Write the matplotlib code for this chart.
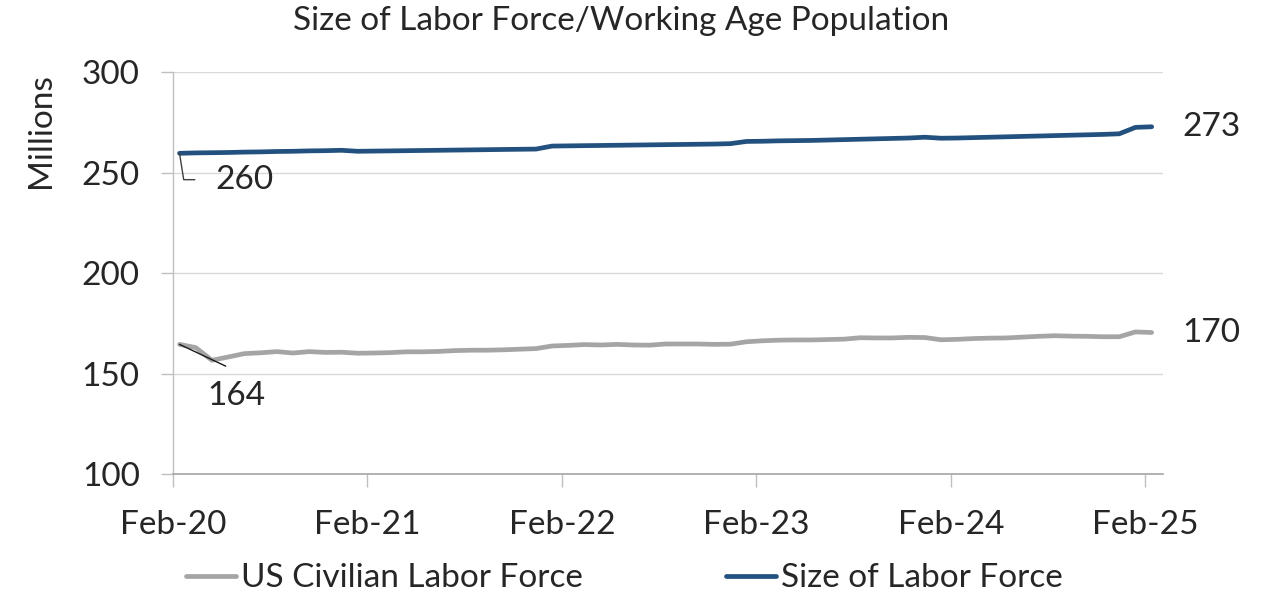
import matplotlib
matplotlib.use("Agg")
import matplotlib.pyplot as plt

# monthly data, Feb-20 .. Feb-25 (millions)
tick_labels = ["Feb-20", "Feb-21", "Feb-22", "Feb-23", "Feb-24", "Feb-25"]

labor_force = [
    164.5, 162.9, 156.6, 158.2, 159.9, 160.3, 160.9, 160.2, 160.9, 160.5, 160.6,   # 2020
    160.1, 160.2, 160.4, 160.8, 160.8, 161.0, 161.4, 161.6, 161.6, 161.8, 162.1, 162.4,  # 2021
    163.7, 164.0, 164.4, 164.2, 164.5, 164.2, 164.1, 164.7, 164.7, 164.7, 164.5, 164.6,  # 2022
    165.8, 166.3, 166.6, 166.7, 166.7, 166.9, 167.1, 167.8, 167.7, 167.7, 168.0, 167.9,  # 2023
    166.8, 167.0, 167.4, 167.6, 167.7, 168.1, 168.5, 168.8, 168.6, 168.5, 168.3, 168.3,  # 2024
    170.7, 170.4,  # 2025
]

working_age = [
    259.6, 259.8, 259.9, 260.0, 260.2, 260.3, 260.5, 260.6, 260.8, 260.9, 261.1,   # 2020
    260.6, 260.7, 260.8, 260.9, 261.0, 261.1, 261.2, 261.3, 261.4, 261.5, 261.6, 261.7,  # 2021
    263.2, 263.3, 263.4, 263.5, 263.6, 263.7, 263.8, 263.9, 264.0, 264.1, 264.2, 264.4,  # 2022
    265.5, 265.6, 265.8, 265.9, 266.0, 266.2, 266.4, 266.6, 266.8, 267.0, 267.2, 267.6,  # 2023
    267.1, 267.2, 267.4, 267.6, 267.8, 268.0, 268.2, 268.4, 268.6, 268.8, 269.0, 269.3,  # 2024
    272.5, 272.8,  # 2025
]

GRAY = "#a5a5a5"
BLUE = "#23517f"
TEXT = "#262626"

plt.rcParams["font.family"] = ["Lato", "Liberation Sans", "DejaVu Sans"]
FS = 24

fig = plt.figure(figsize=(12.64, 5.98), dpi=100)
ax = fig.add_axes([0.1369, 0.2074, 0.9201 - 0.1369, 0.8794 - 0.2074])

x = [i + 0.4 for i in range(len(working_age))]
ax.plot(x, labor_force, color=GRAY, lw=3.4, solid_capstyle="round",
        label="US Civilian Labor Force", zorder=3)
ax.plot(x, working_age, color=BLUE, lw=3.4, solid_capstyle="round",
        label="Size of Labor Force", zorder=3)

ax.set_xlim(0, 61.1)
ax.set_ylim(100, 300)
ax.set_yticks([100, 150, 200, 250, 300])
ax.set_xticks([12 * i for i in range(len(tick_labels))])
ax.set_xticklabels(tick_labels)

ax.grid(axis="y", color="#d9d9d9", lw=1.0)
ax.set_axisbelow(True)
for side in ("top", "right"):
    ax.spines[side].set_visible(False)
ax.spines["left"].set_color("#bfbfbf")
ax.spines["bottom"].set_color("#a6a6a6")
ax.spines["left"].set_linewidth(1.0)
ax.spines["bottom"].set_linewidth(1.2)
ax.tick_params(axis="y", length=9, width=1.0, color="#bfbfbf", labelsize=FS,
               labelcolor=TEXT, pad=15)
ax.tick_params(axis="x", length=9, width=1.0, color="#bfbfbf", labelsize=FS,
               labelcolor=TEXT, pad=17)

ax.set_ylabel("Millions", fontsize=FS, color=TEXT)
ax.yaxis.set_label_coords(-0.118, 0.855)

fig.suptitle("Size of Labor Force/Working Age Population", fontsize=FS,
             color=TEXT, x=0.491, y=0.99, va="top")

# first point labels with leader lines
ax.annotate("260", xy=(x[0], working_age[0]), xytext=(26, -19),
            textcoords="offset points", fontsize=FS, color=TEXT,
            ha="left", va="center",
            arrowprops=dict(arrowstyle="-", color="#404040", lw=1.0,
                            connectionstyle="angle,angleA=0,angleB=-81",
                            relpos=(0, 0.5), shrinkA=13, shrinkB=0))
ax.annotate("164", xy=(x[0], labor_force[0]), xytext=(20, -37),
            textcoords="offset points", fontsize=FS, color=TEXT,
            ha="left", va="center",
            arrowprops=dict(arrowstyle="-", color="#1a1a1a", lw=1.0,
                            relpos=(0.85, 1.0), shrinkA=20, shrinkB=0))

# last point labels
ax.annotate(f"{working_age[-1]:.0f}", xy=(x[-1], working_age[-1]), xytext=(22, 0),
            textcoords="offset points", fontsize=FS, color=TEXT,
            ha="left", va="center")
ax.annotate(f"{labor_force[-1]:.0f}", xy=(x[-1], labor_force[-1]), xytext=(22, 0),
            textcoords="offset points", fontsize=FS, color=TEXT,
            ha="left", va="center")

fig.legend(loc="center", bbox_to_anchor=(0.494, 0.033), ncol=2, frameon=False,
           fontsize=FS, handlelength=1.5, handletextpad=0.15, columnspacing=4.3,
           labelcolor=TEXT)

fig.savefig("out.png", dpi=100)
